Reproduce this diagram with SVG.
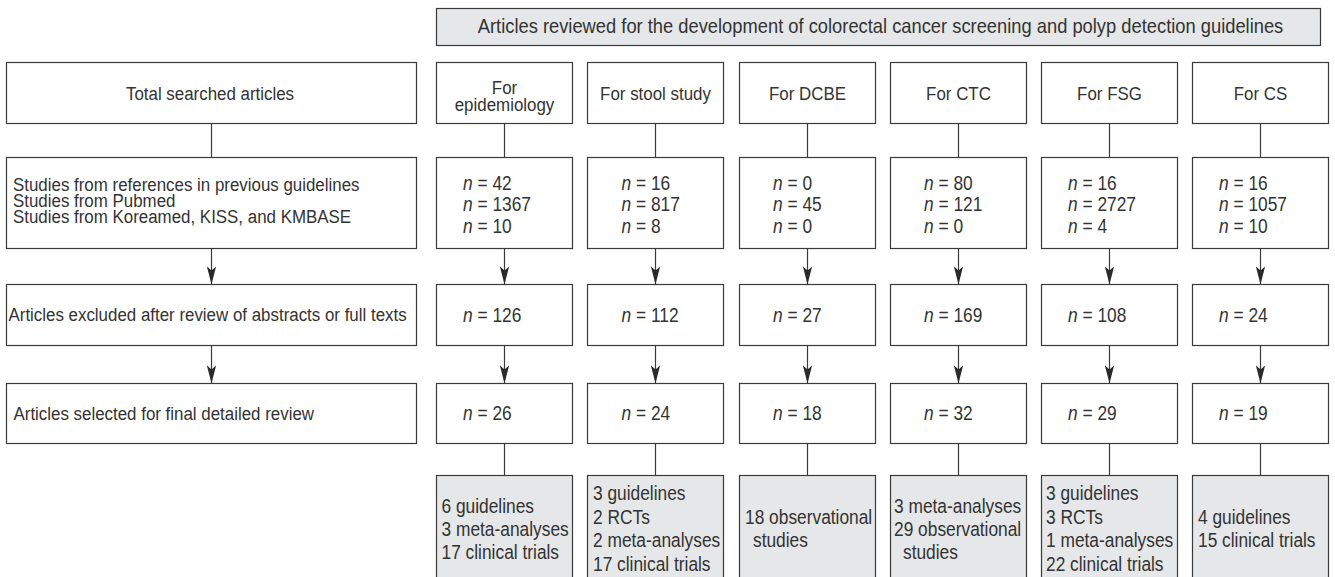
<svg xmlns="http://www.w3.org/2000/svg" width="1335" height="577" viewBox="0 0 1335 577">
<defs>
<style>
.b{fill:#ffffff;stroke:#3a3a3a;stroke-width:1.2}
.g{fill:#e6e7e8;stroke:#3a3a3a;stroke-width:1.2}
text{font-family:"Liberation Sans",Arial,sans-serif;font-size:19px;fill:#333333}
.h{font-size:20.6px}
.n{font-size:19.5px}
.c{text-anchor:middle}
.i{font-style:italic}
.ln{stroke:#3a3a3a;stroke-width:1.2;fill:none}
.ar{marker-end:url(#ah)}
</style>
<marker id="ah" markerUnits="userSpaceOnUse" markerWidth="20" markerHeight="10" viewBox="-19 -5 20 10" refX="0" refY="0" orient="auto">
<path d="M0,0 L-18,-4.6 L-14,0 L-18,4.6 Z" fill="#2a2a2a"/>
</marker>
</defs>

<g id="connectors">
<path class="ln" d="M211.5,123.5V157.5"/>
<path class="ln ar" d="M211.5,248.5V284.5"/>
<path class="ln ar" d="M211.5,345.5V383.5"/>

<path class="ln" d="M504.5,123.5V157.5"/>
<path class="ln ar" d="M504.5,248.5V284.5"/>
<path class="ln ar" d="M504.5,345.5V383.5"/>
<path class="ln" d="M504.5,443.5V475.5"/>

<path class="ln" d="M655.5,123.5V157.5"/>
<path class="ln ar" d="M655.5,248.5V284.5"/>
<path class="ln ar" d="M655.5,345.5V383.5"/>
<path class="ln" d="M655.5,443.5V475.5"/>

<path class="ln" d="M807.5,123.5V157.5"/>
<path class="ln ar" d="M807.5,248.5V284.5"/>
<path class="ln ar" d="M807.5,345.5V383.5"/>
<path class="ln" d="M807.5,443.5V475.5"/>

<path class="ln" d="M958.5,123.5V157.5"/>
<path class="ln ar" d="M958.5,248.5V284.5"/>
<path class="ln ar" d="M958.5,345.5V383.5"/>
<path class="ln" d="M958.5,443.5V475.5"/>

<path class="ln" d="M1109.5,123.5V157.5"/>
<path class="ln ar" d="M1109.5,248.5V284.5"/>
<path class="ln ar" d="M1109.5,345.5V383.5"/>
<path class="ln" d="M1109.5,443.5V475.5"/>

<path class="ln" d="M1260.5,123.5V157.5"/>
<path class="ln ar" d="M1260.5,248.5V284.5"/>
<path class="ln ar" d="M1260.5,345.5V383.5"/>
<path class="ln" d="M1260.5,443.5V475.5"/>
</g>

<g id="header">
<rect class="g" x="436.5" y="8.5" width="884" height="37"/>
<text class="h c" transform="translate(880.5 0) scale(0.89 1)" y="33.5">Articles reviewed for the development of colorectal cancer screening and polyp detection guidelines</text>
</g>

<g id="left-total">
<rect class="b" x="6.5" y="62.5" width="410" height="61"/>
<text class="c" transform="translate(210 0) scale(0.89 1)" y="100">Total searched articles</text>
</g>
<g id="left-sources">
<rect class="b" x="6.5" y="157.5" width="410" height="91"/>
<text transform="translate(13 0) scale(0.89 1)" y="191">Studies from references in previous guidelines</text>
<text transform="translate(13 0) scale(0.89 1)" y="207">Studies from Pubmed</text>
<text transform="translate(13 0) scale(0.89 1)" y="223">Studies from Koreamed, KISS, and KMBASE</text>
</g>
<g id="left-excluded">
<rect class="b" x="6.5" y="284.5" width="410" height="61"/>
<text transform="translate(8.5 0) scale(0.89 1)" y="321.5">Articles excluded after review of abstracts or full texts</text>
</g>
<g id="left-selected">
<rect class="b" x="6.5" y="383.5" width="410" height="60"/>
<text transform="translate(13.5 0) scale(0.89 1)" y="420">Articles selected for final detailed review</text>
</g>

<g id="epi-title">
<rect class="b" x="436.5" y="62.5" width="136" height="61"/>
<text class="c" transform="translate(504.5 0) scale(0.89 1)" y="94.5">For</text>
<text class="c" transform="translate(504.5 0) scale(0.89 1)" y="111">epidemiology</text>
</g>
<g id="stool-title">
<rect class="b" x="587.5" y="62.5" width="136" height="61"/>
<text class="c" transform="translate(655.5 0) scale(0.89 1)" y="100">For stool study</text>
</g>
<g id="dcbe-title">
<rect class="b" x="739.5" y="62.5" width="136" height="61"/>
<text class="c" transform="translate(807.5 0) scale(0.89 1)" y="100">For DCBE</text>
</g>
<g id="ctc-title">
<rect class="b" x="890.5" y="62.5" width="136" height="61"/>
<text class="c" transform="translate(958.5 0) scale(0.89 1)" y="100">For CTC</text>
</g>
<g id="fsg-title">
<rect class="b" x="1041.5" y="62.5" width="136" height="61"/>
<text class="c" transform="translate(1109.5 0) scale(0.89 1)" y="100">For FSG</text>
</g>
<g id="cs-title">
<rect class="b" x="1192.5" y="62.5" width="136" height="61"/>
<text class="c" transform="translate(1260.5 0) scale(0.89 1)" y="100">For CS</text>
</g>

<g id="epi-sources">
<rect class="b" x="436.5" y="157.5" width="136" height="91"/>
<text class="n" transform="translate(463 0) scale(0.89 1)" y="190"><tspan class="i">n</tspan> = 42</text>
<text class="n" transform="translate(463 0) scale(0.89 1)" y="211.5"><tspan class="i">n</tspan> = 1367</text>
<text class="n" transform="translate(463 0) scale(0.89 1)" y="233"><tspan class="i">n</tspan> = 10</text>
</g>
<g id="stool-sources">
<rect class="b" x="587.5" y="157.5" width="136" height="91"/>
<text class="n" transform="translate(621.5 0) scale(0.89 1)" y="190"><tspan class="i">n</tspan> = 16</text>
<text class="n" transform="translate(621.5 0) scale(0.89 1)" y="211.5"><tspan class="i">n</tspan> = 817</text>
<text class="n" transform="translate(621.5 0) scale(0.89 1)" y="233"><tspan class="i">n</tspan> = 8</text>
</g>
<g id="dcbe-sources">
<rect class="b" x="739.5" y="157.5" width="136" height="91"/>
<text class="n" transform="translate(773 0) scale(0.89 1)" y="190"><tspan class="i">n</tspan> = 0</text>
<text class="n" transform="translate(773 0) scale(0.89 1)" y="211.5"><tspan class="i">n</tspan> = 45</text>
<text class="n" transform="translate(773 0) scale(0.89 1)" y="233"><tspan class="i">n</tspan> = 0</text>
</g>
<g id="ctc-sources">
<rect class="b" x="890.5" y="157.5" width="136" height="91"/>
<text class="n" transform="translate(924 0) scale(0.89 1)" y="190"><tspan class="i">n</tspan> = 80</text>
<text class="n" transform="translate(924 0) scale(0.89 1)" y="211.5"><tspan class="i">n</tspan> = 121</text>
<text class="n" transform="translate(924 0) scale(0.89 1)" y="233"><tspan class="i">n</tspan> = 0</text>
</g>
<g id="fsg-sources">
<rect class="b" x="1041.5" y="157.5" width="136" height="91"/>
<text class="n" transform="translate(1068 0) scale(0.89 1)" y="190"><tspan class="i">n</tspan> = 16</text>
<text class="n" transform="translate(1068 0) scale(0.89 1)" y="211.5"><tspan class="i">n</tspan> = 2727</text>
<text class="n" transform="translate(1068 0) scale(0.89 1)" y="233"><tspan class="i">n</tspan> = 4</text>
</g>
<g id="cs-sources">
<rect class="b" x="1192.5" y="157.5" width="136" height="91"/>
<text class="n" transform="translate(1219 0) scale(0.89 1)" y="190"><tspan class="i">n</tspan> = 16</text>
<text class="n" transform="translate(1219 0) scale(0.89 1)" y="211.5"><tspan class="i">n</tspan> = 1057</text>
<text class="n" transform="translate(1219 0) scale(0.89 1)" y="233"><tspan class="i">n</tspan> = 10</text>
</g>

<g id="epi-excluded">
<rect class="b" x="436.5" y="284.5" width="136" height="61"/>
<text class="n" transform="translate(463 0) scale(0.89 1)" y="322"><tspan class="i">n</tspan> = 126</text>
</g>
<g id="stool-excluded">
<rect class="b" x="587.5" y="284.5" width="136" height="61"/>
<text class="n" transform="translate(621.5 0) scale(0.89 1)" y="322"><tspan class="i">n</tspan> = 112</text>
</g>
<g id="dcbe-excluded">
<rect class="b" x="739.5" y="284.5" width="136" height="61"/>
<text class="n" transform="translate(773 0) scale(0.89 1)" y="322"><tspan class="i">n</tspan> = 27</text>
</g>
<g id="ctc-excluded">
<rect class="b" x="890.5" y="284.5" width="136" height="61"/>
<text class="n" transform="translate(924 0) scale(0.89 1)" y="322"><tspan class="i">n</tspan> = 169</text>
</g>
<g id="fsg-excluded">
<rect class="b" x="1041.5" y="284.5" width="136" height="61"/>
<text class="n" transform="translate(1068 0) scale(0.89 1)" y="322"><tspan class="i">n</tspan> = 108</text>
</g>
<g id="cs-excluded">
<rect class="b" x="1192.5" y="284.5" width="136" height="61"/>
<text class="n" transform="translate(1219 0) scale(0.89 1)" y="322"><tspan class="i">n</tspan> = 24</text>
</g>

<g id="epi-selected">
<rect class="b" x="436.5" y="383.5" width="136" height="60"/>
<text class="n" transform="translate(463 0) scale(0.89 1)" y="420.5"><tspan class="i">n</tspan> = 26</text>
</g>
<g id="stool-selected">
<rect class="b" x="587.5" y="383.5" width="136" height="60"/>
<text class="n" transform="translate(621.5 0) scale(0.89 1)" y="420.5"><tspan class="i">n</tspan> = 24</text>
</g>
<g id="dcbe-selected">
<rect class="b" x="739.5" y="383.5" width="136" height="60"/>
<text class="n" transform="translate(773 0) scale(0.89 1)" y="420.5"><tspan class="i">n</tspan> = 18</text>
</g>
<g id="ctc-selected">
<rect class="b" x="890.5" y="383.5" width="136" height="60"/>
<text class="n" transform="translate(924 0) scale(0.89 1)" y="420.5"><tspan class="i">n</tspan> = 32</text>
</g>
<g id="fsg-selected">
<rect class="b" x="1041.5" y="383.5" width="136" height="60"/>
<text class="n" transform="translate(1068 0) scale(0.89 1)" y="420.5"><tspan class="i">n</tspan> = 29</text>
</g>
<g id="cs-selected">
<rect class="b" x="1192.5" y="383.5" width="136" height="60"/>
<text class="n" transform="translate(1219 0) scale(0.89 1)" y="420.5"><tspan class="i">n</tspan> = 19</text>
</g>

<g id="epi-types">
<rect class="g" x="436.5" y="475.5" width="136" height="130"/>
<text class="n" transform="translate(441.5 0) scale(0.89 1)" y="513.5">6 guidelines</text>
<text class="n" transform="translate(441.5 0) scale(0.89 1)" y="536.5">3 meta-analyses</text>
<text class="n" transform="translate(441.5 0) scale(0.89 1)" y="559.5">17 clinical trials</text>
</g>
<g id="stool-types">
<rect class="g" x="587.5" y="475.5" width="136" height="130"/>
<text class="n" transform="translate(593 0) scale(0.89 1)" y="500.5">3 guidelines</text>
<text class="n" transform="translate(593 0) scale(0.89 1)" y="524">2 RCTs</text>
<text class="n" transform="translate(593 0) scale(0.89 1)" y="547.5">2 meta-analyses</text>
<text class="n" transform="translate(593 0) scale(0.89 1)" y="571">17 clinical trials</text>
</g>
<g id="dcbe-types">
<rect class="g" x="739.5" y="475.5" width="136" height="130"/>
<text class="n" transform="translate(745 0) scale(0.89 1)" y="524.5">18 observational</text>
<text class="n" transform="translate(753 0) scale(0.89 1)" y="547.5">studies</text>
</g>
<g id="ctc-types">
<rect class="g" x="890.5" y="475.5" width="136" height="130"/>
<text class="n" transform="translate(894 0) scale(0.89 1)" y="513.5">3 meta-analyses</text>
<text class="n" transform="translate(894 0) scale(0.89 1)" y="536.5">29 observational</text>
<text class="n" transform="translate(903 0) scale(0.89 1)" y="559.5">studies</text>
</g>
<g id="fsg-types">
<rect class="g" x="1041.5" y="475.5" width="136" height="130"/>
<text class="n" transform="translate(1046 0) scale(0.89 1)" y="500.5">3 guidelines</text>
<text class="n" transform="translate(1046 0) scale(0.89 1)" y="524">3 RCTs</text>
<text class="n" transform="translate(1046 0) scale(0.89 1)" y="547.5">1 meta-analyses</text>
<text class="n" transform="translate(1046 0) scale(0.89 1)" y="571">22 clinical trials</text>
</g>
<g id="cs-types">
<rect class="g" x="1192.5" y="475.5" width="136" height="130"/>
<text class="n" transform="translate(1198 0) scale(0.89 1)" y="524.5">4 guidelines</text>
<text class="n" transform="translate(1198 0) scale(0.89 1)" y="547.5">15 clinical trials</text>
</g>
</svg>
